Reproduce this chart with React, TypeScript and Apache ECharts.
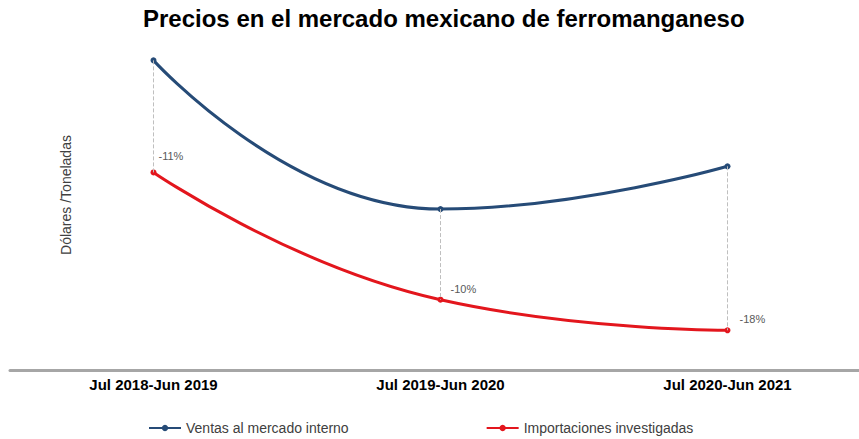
import React, { useEffect, useRef } from "react";
import * as echarts from "echarts";

const titleText = "Precios en el mercado mexicano de ferromanganeso";
const yAxisName = "Dólares /Toneladas";
const categories = ["Jul 2018-Jun 2019", "Jul 2019-Jun 2020", "Jul 2020-Jun 2021"];
const ventasName = "Ventas al mercado interno";
const importName = "Importaciones investigadas";
const ventas = [100, 85.4, 89.6];
const importaciones = [89.0, 76.5, 73.5];
const changeLabels = ["-11%", "-10%", "-18%"];

const FONT = "'Liberation Sans', Arial, sans-serif";

export default function App() {
  const ref = useRef<HTMLDivElement>(null);

  useEffect(() => {
    if (!ref.current) return;
    const chart = echarts.init(ref.current, undefined, { renderer: "svg" });
    const labelOffsets = [
      [-3, -16],
      [2, -11],
      [4, -11],
    ];
    const option = {
      animation: false,
      backgroundColor: "#ffffff",
      textStyle: { fontFamily: FONT },
      title: {
        text: titleText,
        left: 138,
        top: 1,
        textStyle: { fontSize: 24, fontWeight: "bold", color: "#000000", fontFamily: FONT },
      },
      grid: {
        left: 10,
        width: 861,
        top: 40,
        bottom: 69,
        containLabel: false,
        outerBoundsMode: "none",
      },
      xAxis: {
        type: "category",
        data: categories,
        boundaryGap: true,
        axisLine: { show: true, lineStyle: { color: "#a6a6a6", width: 3 } },
        axisTick: { show: false },
        axisLabel: {
          margin: 7,
          fontSize: 15,
          fontWeight: "bold",
          color: "#000000",
          fontFamily: FONT,
        },
        splitLine: { show: false },
      },
      yAxis: {
        type: "value",
        min: 69.6,
        max: 102,
        show: false,
      },
      legend: {
        data: [ventasName, importName],
        left: 143,
        top: 416,
        itemWidth: 32,
        itemHeight: 8,
        itemGap: 137,
        textStyle: { fontSize: 14, color: "#404040", fontFamily: FONT },
      },
      graphic: [
        {
          type: "text",
          x: 66,
          y: 195,
          rotation: Math.PI / 2,
          style: {
            text: yAxisName,
            fontSize: 14,
            fill: "#404040",
            fontFamily: FONT,
            align: "center",
            verticalAlign: "middle",
          },
        },
      ],
      series: [
        {
          name: ventasName,
          type: "line",
          data: ventas,
          smooth: 0.5,
          symbol: "circle",
          symbolSize: 6,
          lineStyle: { color: "#264b77", width: 3 },
          itemStyle: { color: "#264b77" },
          z: 3,
        },
        {
          name: importName,
          type: "line",
          data: importaciones.map((v, i) => ({
            value: v,
            label: {
              show: true,
              position: "right",
              distance: 5,
              offset: labelOffsets[i],
              formatter: changeLabels[i],
              fontSize: 11,
              color: "#595959",
              fontFamily: FONT,
            },
          })),
          smooth: 0.5,
          symbol: "circle",
          symbolSize: 6,
          lineStyle: { color: "#e3161d", width: 3 },
          itemStyle: { color: "#e3161d" },
          z: 3,
          markLine: {
            silent: true,
            symbol: ["none", "none"],
            label: { show: false },
            lineStyle: { color: "#bfbfbf", width: 1, type: "dashed" },
            data: categories.map((_, i) => [
              { coord: [i, ventas[i]] },
              { coord: [i, importaciones[i]] },
            ]),
          },
        },
      ],
    };
    chart.setOption(option as any);
    return () => chart.dispose();
  }, []);

  return (
    <div
      ref={ref}
      style={{ position: "fixed", left: 0, top: 0, width: 859, height: 439, background: "#fff" }}
    />
  );
}
